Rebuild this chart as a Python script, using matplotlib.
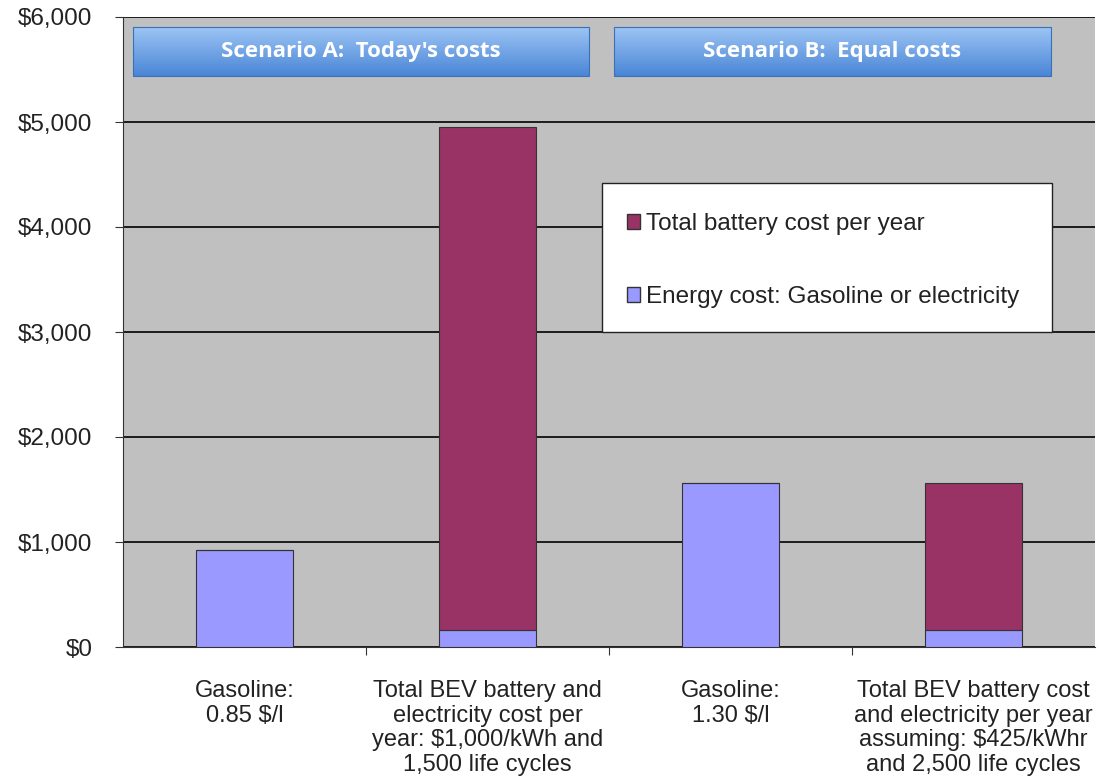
import numpy as np
import matplotlib.pyplot as plt
from matplotlib.patches import Patch
from matplotlib.colors import LinearSegmentedColormap

plt.rcParams['font.family'] = ['Liberation Sans', 'DejaVu Sans']

categories = ['Gasoline:\n0.85 $/l',
              'Total BEV battery and\nelectricity cost per\nyear: $1,000/kWh and\n1,500 life cycles',
              'Gasoline:\n1.30 $/l',
              'Total BEV battery cost\nand electricity per year\nassuming: $425/kWhr\nand 2,500 life cycles']
energy_cost = [920, 160, 1560, 160]
battery_cost = [0, 4790, 0, 1405]
scenario_labels = ["Scenario A:  Today's costs", "Scenario B:  Equal costs"]
y_ticks = [0, 1000, 2000, 3000, 4000, 5000, 6000]

col_battery = '#993366'
col_energy = '#9999FF'

fig = plt.figure(figsize=(10.99, 7.82), dpi=100)
ax = fig.add_axes([123/1099, 135/782, 972/1099, 630/782])
ax.set_facecolor('#C0C0C0')

x = np.arange(len(categories))
w = 0.4
ax.bar(x, energy_cost, w, color=col_energy, edgecolor='#333333', linewidth=0.8, zorder=3)
ax.bar(x, battery_cost, w, bottom=energy_cost, color=col_battery,
       edgecolor='#333333', linewidth=0.8, zorder=3)

ax.set_ylim(0, 6000)
ax.set_xlim(-0.5, 3.5)
ax.set_yticks(y_ticks)
ax.set_yticklabels(['${:,}'.format(v) for v in y_ticks], fontsize=17.5, color='#222222')
ax.yaxis.grid(True, color='black', linewidth=1.2, zorder=1)
ax.set_axisbelow(True)

ax.set_xticks([0.5, 1.5, 2.5])
ax.set_xticklabels([])
ax.set_xticks(x, minor=True)
ax.set_xticklabels(categories, minor=True, fontsize=17, linespacing=1.15, color='#222222')
ax.tick_params(axis='x', which='minor', length=0, pad=24)
ax.tick_params(axis='x', which='major', length=6, color='#333333')
ax.tick_params(axis='y', length=6, color='#333333', pad=16)
for s in ['right', 'top']:
    ax.spines[s].set_visible(False)
ax.spines['left'].set_color('#333333')
ax.spines['bottom'].set_color('#333333')

# scenario header boxes with gradient
grad = np.linspace(0, 1, 100).reshape(-1, 1)
cmap = LinearSegmentedColormap.from_list('hdr', ['#4A86D6', '#9CC4F4'])
boxes = [(133, 589), (614, 1051)]
for (bx0, bx1), lab in zip(boxes, scenario_labels):
    x0 = (bx0 - 123) / 972
    x1 = (bx1 - 123) / 972
    y0 = (647 - 76) / 630
    y1 = (647 - 27) / 630
    ax.imshow(grad, cmap=cmap, aspect='auto', extent=[x0, x1, y0, y1],
              transform=ax.transAxes, zorder=4, origin='lower')
    ax.add_patch(plt.Rectangle((x0, y0), x1 - x0, y1 - y0, transform=ax.transAxes,
                               fill=False, edgecolor='#3A70B8', linewidth=0.8, zorder=5))
    ax.text((x0 + x1) / 2, (y0 + y1) / 2, lab, transform=ax.transAxes, ha='center',
            va='center', color='white', fontsize=16, fontweight='bold',
            family=['Open Sans', 'DejaVu Sans'], zorder=6)
ax.set_xlim(-0.5, 3.5)
ax.set_ylim(0, 6000)

# legend box
ax.add_patch(plt.Rectangle((0.493, 0.5), 0.463, 0.237, transform=ax.transAxes,
                           facecolor='white', edgecolor='#222222', linewidth=1.0, zorder=6))
handles = [Patch(facecolor=col_battery, edgecolor='#333333'),
           Patch(facecolor=col_energy, edgecolor='#333333')]
leg = ax.legend(handles, ['Total battery cost per year', 'Energy cost: Gasoline or electricity'],
                loc='center left', bbox_to_anchor=(0.5185, 0.6135), fontsize=17.5,
                frameon=False, handlelength=0.53, handleheight=0.53, handletextpad=0.25,
                labelspacing=2.1, borderpad=0, borderaxespad=0)
for t in leg.get_texts():
    t.set_color('#222222')
leg.set_zorder(7)

fig.savefig('out.png', dpi=100)
